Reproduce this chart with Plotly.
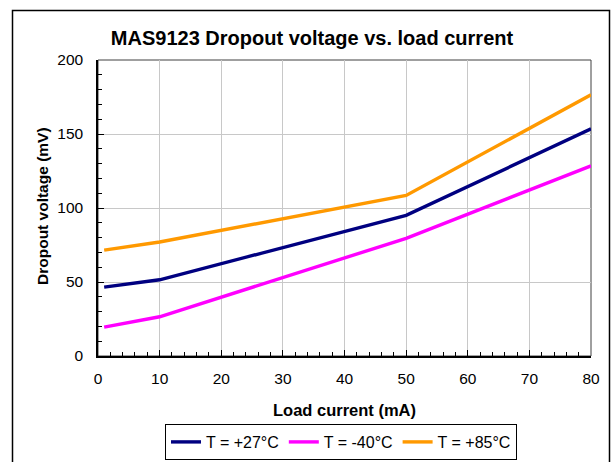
import plotly.graph_objects as go

load_current = [1, 10, 50, 80]
v_27 = [46.5, 51.5, 95, 153.5]
v_m40 = [19.5, 26.5, 79.5, 128.5]
v_85 = [71.5, 77, 108.5, 176.5]

series_names = ["T = +27°C", "T = -40°C", "T = +85°C"]
series_vals = [v_27, v_m40, v_85]
series_colors = ["#000080", "#FF00FF", "#FF9900"]

W, H = 612, 462
FONT = "Liberation Sans, Arial, sans-serif"

fig = go.Figure()
for name, vals, col in zip(series_names, series_vals, series_colors):
    fig.add_trace(go.Scatter(x=load_current, y=vals, mode="lines", name=name,
                             line=dict(color=col, width=3.4)))

x0p, x1p = 98 / W, 591 / W
y0p, y1p = 1 - 356 / H, 1 - 60 / H

axis_common = dict(
    showline=True, linecolor="black", linewidth=1.5, mirror=False,
    ticks="inside", tickcolor="black", tickwidth=1, ticklen=6,
    showgrid=True, gridcolor="#C8C8C8", gridwidth=1,
    zeroline=False, automargin=False,
    tickfont=dict(family=FONT, size=15.5, color="black"),
)

fig.update_layout(
    width=W, height=H,
    margin=dict(l=0, r=0, t=0, b=0, autoexpand=False),
    paper_bgcolor="white", plot_bgcolor="white",
    showlegend=True,
    title=dict(text="<b>MAS9123 Dropout voltage vs. load current</b>",
               x=312 / W, xanchor="center", y=1 - 38 / H, yanchor="middle",
               font=dict(family=FONT, size=20, color="black")),
    xaxis=dict(domain=[x0p, x1p], range=[0, 80], dtick=10, tick0=0,
               minor=dict(dtick=2, ticks="inside", ticklen=4, tickcolor="black", showgrid=False),
               ticklabelstandoff=8,
               **axis_common),
    yaxis=dict(domain=[y0p, y1p], range=[0, 200], dtick=50, tick0=0,
               minor=dict(dtick=10, ticks="inside", ticklen=4, tickcolor="black", showgrid=False),
               ticklabelstandoff=10,
               **axis_common),
    legend=dict(orientation="h", x=341 / W, xanchor="center", y=1 - 424 / H, yanchor="top",
                bordercolor="black", borderwidth=1, bgcolor="white",
                font=dict(family=FONT, size=16, color="black"),
                itemwidth=30, tracegroupgap=0),
)

# plot area border (top and right)
fig.add_shape(type="rect", xref="paper", yref="paper", x0=x0p, x1=x1p, y0=y0p, y1=y1p,
              line=dict(color="#404040", width=1), layer="below")
# outer chart border
fig.add_shape(type="rect", xref="paper", yref="paper", x0=12.5 / W, x1=609.5 / W,
              y0=-0.05, y1=1 - 10.5 / H, line=dict(color="black", width=1.5))

fig.add_annotation(text="<b>Load current (mA)</b>", xref="paper", yref="paper",
                   x=344 / W, y=1 - 410 / H, xanchor="center", yanchor="middle", showarrow=False,
                   font=dict(family=FONT, size=16.5, color="black"))
fig.add_annotation(text="<b>Dropout voltage (mV)</b>", xref="paper", yref="paper",
                   x=42 / W, y=1 - 206 / H, xanchor="center", yanchor="middle", showarrow=False,
                   textangle=-90, font=dict(family=FONT, size=15.5, color="black"))

fig.write_html("out.html", config={"displayModeBar": False},
               post_script="document.body.style.margin='0';document.body.style.padding='0';")
